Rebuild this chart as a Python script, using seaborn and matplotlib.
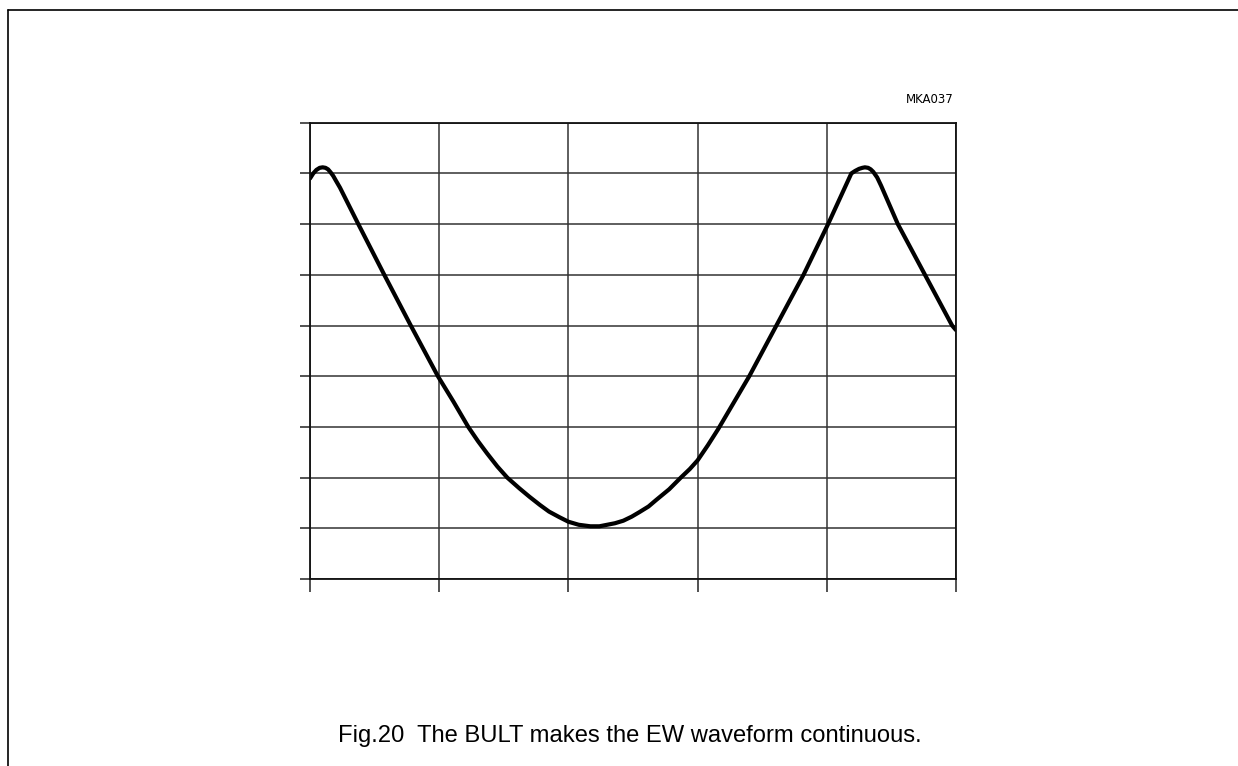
import numpy as np
import pandas as pd
import seaborn as sns
import matplotlib.pyplot as plt
from matplotlib.lines import Line2D

# EW waveform (grid units: 5 columns x 9 rows)
wave_x = [0.00, 0.025, 0.05, 0.075, 0.098, 0.12, 0.14, 0.16, 0.18, 0.20,
          0.232, 0.37, 0.575, 0.78, 0.99, 1.11, 1.225, 1.30, 1.37, 1.45,
          1.527, 1.62, 1.70, 1.78, 1.85, 1.93, 2.00, 2.08, 2.17, 2.24,
          2.30, 2.36, 2.425, 2.49, 2.55, 2.62, 2.68, 2.78, 2.87, 2.94,
          3.00, 3.08, 3.16, 3.28, 3.40, 3.61, 3.82, 4.01, 4.19, 4.22,
          4.25, 4.275, 4.295, 4.32, 4.34, 4.36, 4.39, 4.42, 4.55, 4.76,
          4.97, 5.00]
wave_y = [7.90, 8.00, 8.07, 8.11, 8.12, 8.11, 8.08, 8.02, 7.95, 7.86,
          7.72, 7.02, 6.00, 5.00, 4.00, 3.50, 3.00, 2.72, 2.48, 2.22,
          2.00, 1.79, 1.62, 1.46, 1.33, 1.22, 1.13, 1.07, 1.04, 1.04,
          1.07, 1.10, 1.15, 1.23, 1.32, 1.43, 1.56, 1.77, 2.00, 2.17,
          2.34, 2.64, 2.96, 3.48, 4.00, 5.00, 6.00, 7.00, 8.00, 8.05,
          8.09, 8.11, 8.12, 8.11, 8.08, 8.03, 7.92, 7.76, 7.00, 6.00,
          5.00, 4.91]
x_ticks = [0, 1, 2, 3, 4, 5]
y_ticks = [0, 1, 2, 3, 4, 5, 6, 7, 8, 9]

code_label = "MKA037"
caption = "Fig.20  The BULT makes the EW waveform continuous."

df = pd.DataFrame({"x": wave_x, "y": wave_y})

sns.set_theme(style="white")
plt.rcParams['font.family'] = ['Liberation Sans', 'DejaVu Sans']

fig = plt.figure(figsize=(12.38, 7.66), dpi=100)
ax = fig.add_axes([0.2504, 0.2441, 0.5218, 0.5957])

sns.lineplot(data=df, x="x", y="y", ax=ax, sort=False, estimator=None,
             color="black", linewidth=3.0, solid_capstyle="round",
             solid_joinstyle="round")

ax.set_xlim(0, 5)
ax.set_ylim(0, 9)
ax.set_xticks(x_ticks)
ax.set_yticks(y_ticks)
ax.set_xticklabels([])
ax.set_yticklabels([])
ax.set_xlabel("")
ax.set_ylabel("")
ax.grid(True, color="#333333", linewidth=1.1)
ax.tick_params(axis="both", which="both", direction="out", color="#222222",
               width=1.1, left=True, bottom=True)
ax.tick_params(axis="y", length=7)
ax.tick_params(axis="x", length=9.5)
for s in ax.spines.values():
    s.set_visible(True)
    s.set_color("#111111")
    s.set_linewidth(1.3)

# outer page frame
fig.add_artist(Line2D([0.0065, 1.0], [0.987, 0.987], color="black", lw=1.2,
                      transform=fig.transFigure))
fig.add_artist(Line2D([0.0065, 0.0065], [0.0, 0.987], color="black", lw=1.2,
                      transform=fig.transFigure))

fig.text(0.770, 0.8695, code_label, ha="right", va="center", fontsize=8.5,
         family="DejaVu Sans", color="black")
fig.text(0.273, 0.0313, caption, ha="left", va="baseline", fontsize=17.1,
         color="black")

fig.savefig("out.png", dpi=100)
